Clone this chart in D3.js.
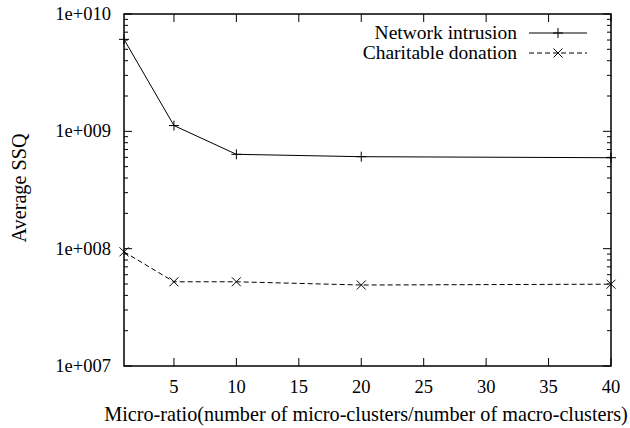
<!DOCTYPE html>
<html><head><meta charset="utf-8">
<script src="https://cdn.jsdelivr.net/npm/d3@7"></script>
<style>body{margin:0;background:#fff}svg{display:block}text{font-family:"Liberation Serif","Times New Roman",serif;fill:#000}</style>
</head><body><svg id="c" width="630" height="428"></svg>
<script>
const xValues = [1, 5, 10, 20, 40];
const networkIntrusion = [6.08e9, 1.12e9, 6.37e8, 6.08e8, 5.96e8];
const charitableDonation = [9.4e7, 5.22e7, 5.22e7, 4.9e7, 4.98e7];
const seriesNames = ["Network intrusion", "Charitable donation"];
const xTicks = [5, 10, 15, 20, 25, 30, 35, 40];
const yTicks = [1e7, 1e8, 1e9, 1e10];
const yTickLabels = ["1e+007", "1e+008", "1e+009", "1e+010"];
const xTitle = "Micro-ratio(number of micro-clusters/number of macro-clusters)";
const yTitle = "Average SSQ";

const svg = d3.select("#c");
const L = 124, R = 611, T = 14, B = 366;
const x = d3.scaleLinear().domain([1, 40]).range([L, R]);
const y = d3.scaleLog().domain([1e7, 1e10]).range([B, T]);
const FS = 18.5, FL = 19.5, FT = 20.2;

// minor y ticks
const minor = [];
for (let d = 1e7; d < 1e10; d *= 10) for (let k = 2; k <= 9; k++) minor.push(d * k);
const g = svg.append("g").attr("stroke", "#000").attr("stroke-width", 1);
minor.forEach(v => {
  g.append("line").attr("x1", L).attr("x2", L + 4).attr("y1", y(v)).attr("y2", y(v));
  g.append("line").attr("x1", R).attr("x2", R - 4).attr("y1", y(v)).attr("y2", y(v));
});
yTicks.forEach(v => {
  g.append("line").attr("x1", L).attr("x2", L + 8).attr("y1", y(v)).attr("y2", y(v));
  g.append("line").attr("x1", R).attr("x2", R - 8).attr("y1", y(v)).attr("y2", y(v));
});
xTicks.forEach(v => {
  g.append("line").attr("x1", x(v)).attr("x2", x(v)).attr("y1", B).attr("y2", B - 8);
  g.append("line").attr("x1", x(v)).attr("x2", x(v)).attr("y1", T).attr("y2", T + 8);
});
// frame
svg.append("rect").attr("x", L).attr("y", T).attr("width", R - L).attr("height", B - T)
  .attr("fill", "none").attr("stroke", "#000").attr("stroke-width", 1.5);

// tick labels
yTicks.forEach((v, i) => {
  svg.append("text").attr("x", L - 13).attr("y", y(v) + 6).attr("text-anchor", "end")
    .attr("font-size", FS).text(yTickLabels[i]);
});
xTicks.forEach(v => {
  svg.append("text").attr("x", x(v)).attr("y", 393).attr("text-anchor", "middle")
    .attr("font-size", FS).text(v);
});
svg.append("text").attr("x", 366).attr("y", 421).attr("text-anchor", "middle")
  .attr("font-size", FT).text(xTitle);
svg.append("text").attr("transform", `translate(26,188) rotate(-90)`)
  .attr("text-anchor", "middle").attr("font-size", FT).text(yTitle);

const line = d3.line().x((d, i) => x(xValues[i])).y(d => y(d));
const plus = (sel, cx, cy) => sel.append("path").attr("d", `M${cx - 5},${cy}H${cx + 5}M${cx},${cy - 5}V${cy + 5}`)
  .attr("stroke", "#000").attr("stroke-width", 1).attr("fill", "none");
const cross = (sel, cx, cy) => sel.append("path").attr("d", `M${cx - 4.5},${cy - 4.5}L${cx + 4.5},${cy + 4.5}M${cx - 4.5},${cy + 4.5}L${cx + 4.5},${cy - 4.5}`)
  .attr("stroke", "#000").attr("stroke-width", 1).attr("fill", "none");

const plot = svg.append("g");
plot.append("path").datum(networkIntrusion).attr("d", line).attr("fill", "none").attr("stroke", "#000").attr("stroke-width", 1);
networkIntrusion.forEach((v, i) => plus(plot, x(xValues[i]), y(v)));
plot.append("path").datum(charitableDonation).attr("d", line).attr("fill", "none").attr("stroke", "#000")
  .attr("stroke-width", 1).attr("stroke-dasharray", "5,3");
charitableDonation.forEach((v, i) => cross(plot, x(xValues[i]), y(v)));

// legend
const legY = [33, 53];
seriesNames.forEach((n, i) => {
  svg.append("text").attr("x", 517).attr("y", legY[i] + 6).attr("text-anchor", "end").attr("font-size", FL).text(n);
  const ln = svg.append("line").attr("x1", 529).attr("x2", 587).attr("y1", legY[i]).attr("y2", legY[i])
    .attr("stroke", "#000").attr("stroke-width", 1);
  if (i === 1) ln.attr("stroke-dasharray", "5,3");
  if (i === 0) plus(svg, 558, legY[i]); else cross(svg, 558, legY[i]);
});
</script></body></html>
